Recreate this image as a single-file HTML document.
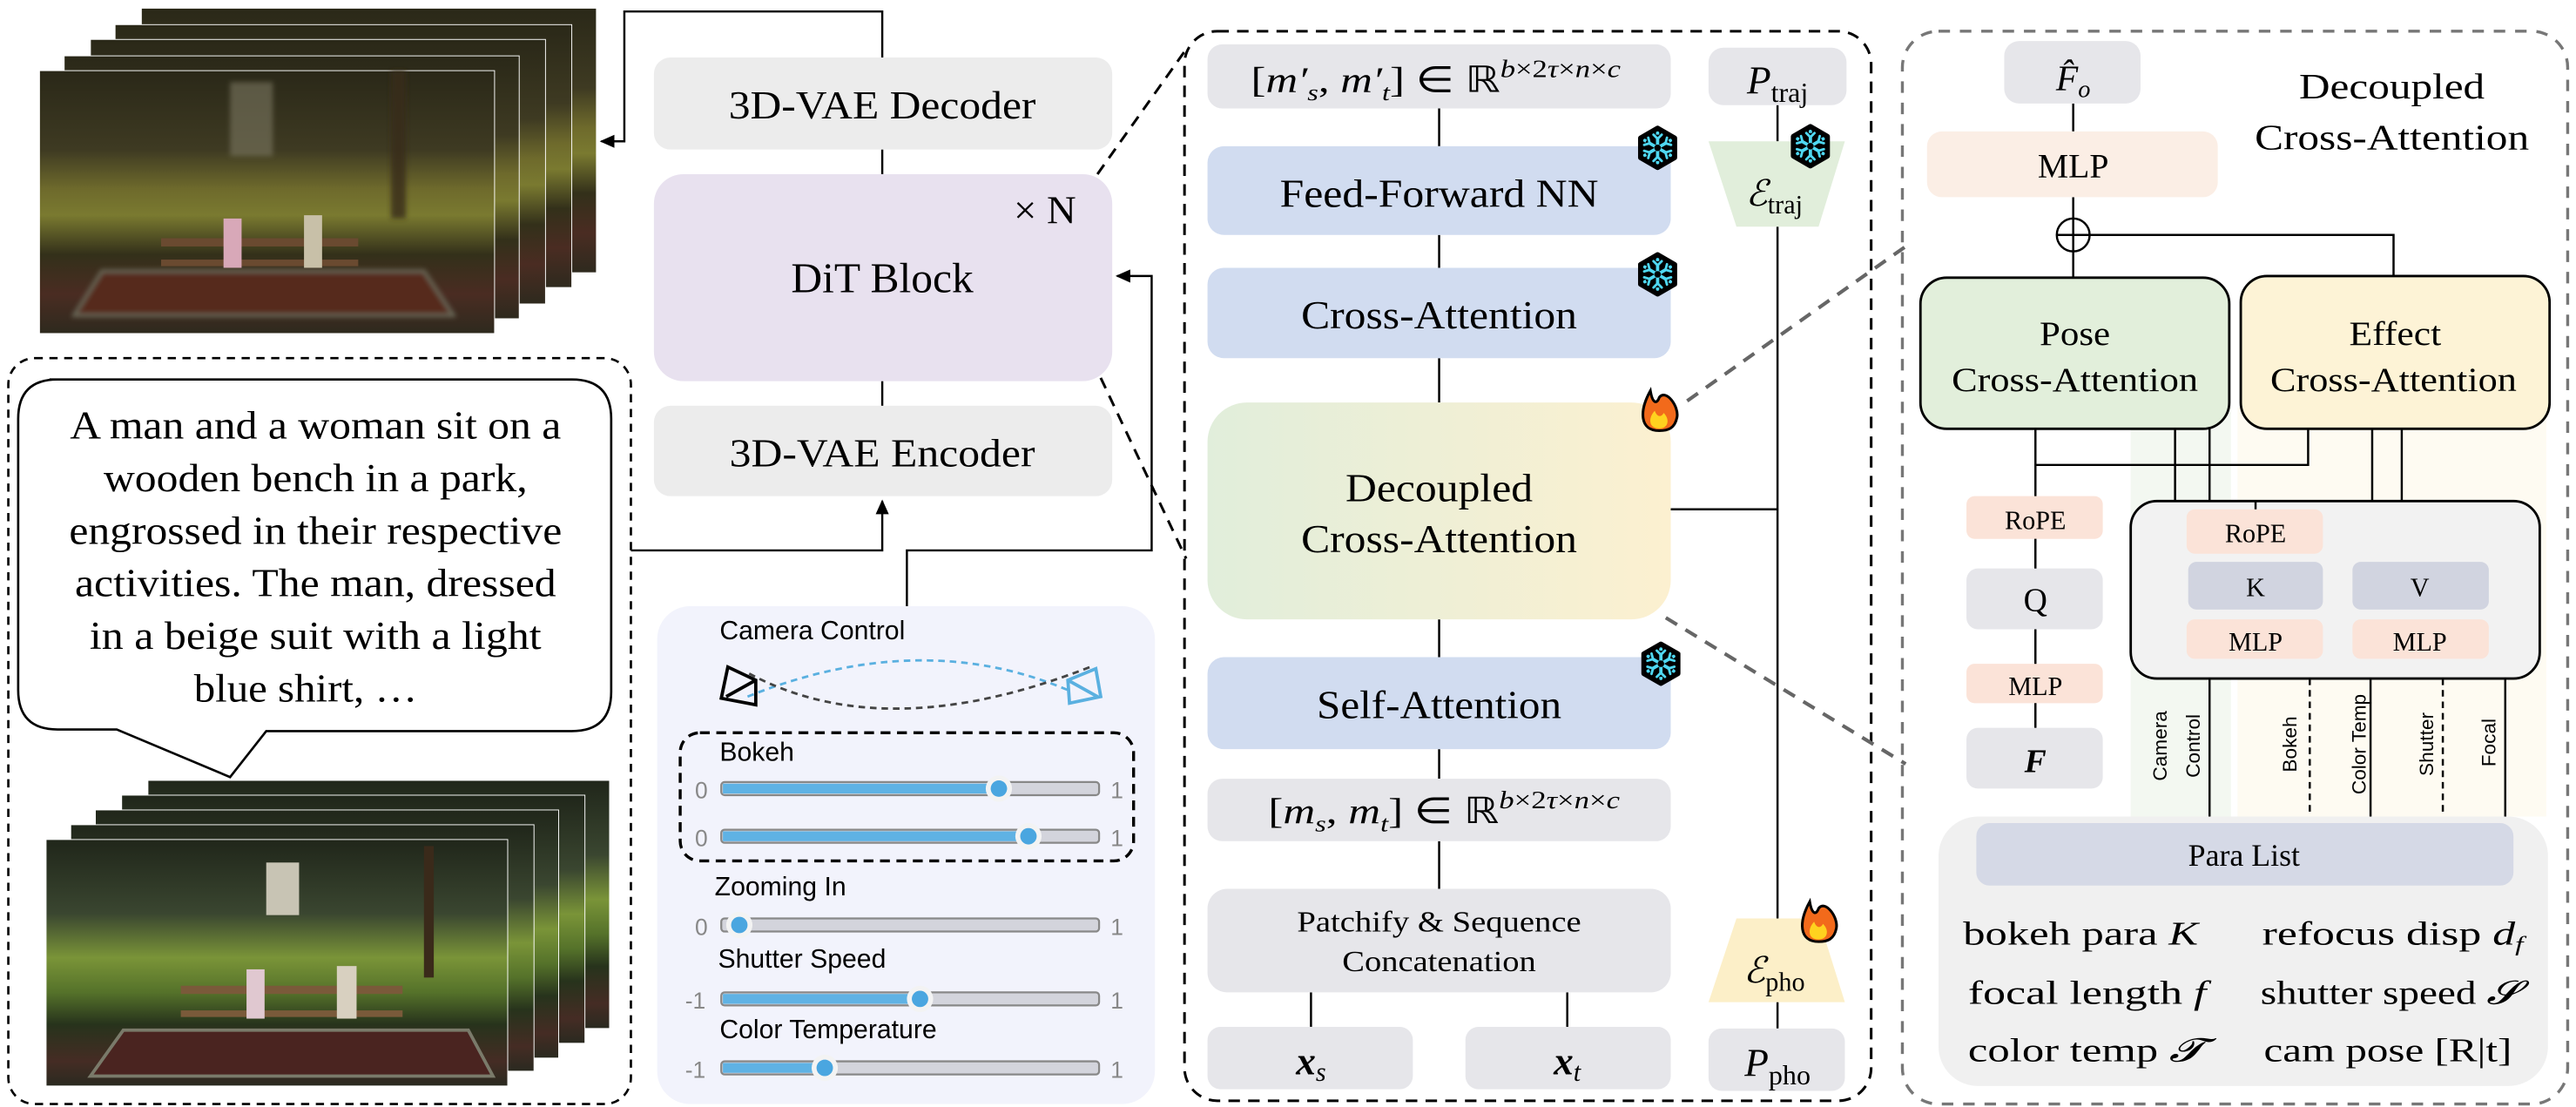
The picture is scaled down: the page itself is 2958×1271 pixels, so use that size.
<!DOCTYPE html>
<html><head><meta charset="utf-8"><style>
html,body{margin:0;padding:0;background:#fff;}
svg{display:block;}
.s{font-family:"Liberation Serif",serif;}
.a{font-family:"Liberation Sans","DejaVu Sans",sans-serif;}
</style></head><body>
<svg width="2958" height="1271" viewBox="0 0 1568 673.8" xmlns="http://www.w3.org/2000/svg">
<defs>
<linearGradient id="ph1" x1="0" y1="0" x2="0" y2="1">
<stop offset="0" stop-color="#2a2818"/><stop offset="0.3" stop-color="#3e3a22"/><stop offset="0.45" stop-color="#6e6a2c"/><stop offset="0.55" stop-color="#7a7a30"/><stop offset="0.7" stop-color="#33301a"/><stop offset="0.85" stop-color="#4a2c22"/><stop offset="1" stop-color="#2e2a1e"/>
</linearGradient>
<linearGradient id="ph2" x1="0" y1="0" x2="0" y2="1">
<stop offset="0" stop-color="#20261a"/><stop offset="0.3" stop-color="#3a4630"/><stop offset="0.48" stop-color="#7a9438"/><stop offset="0.62" stop-color="#55722a"/><stop offset="0.75" stop-color="#27331c"/><stop offset="0.9" stop-color="#452c24"/><stop offset="1" stop-color="#2a2a20"/>
</linearGradient>
<linearGradient id="dec" x1="0" y1="0" x2="1" y2="0">
<stop offset="0" stop-color="#e1eedb"/><stop offset="1" stop-color="#fcf0d0"/>
</linearGradient>
<marker id="ar" markerWidth="10" markerHeight="10" refX="8" refY="5" orient="auto" markerUnits="userSpaceOnUse"><path d="M0,1 L9,5 L0,9 Z" fill="#000"/></marker>
<g id="fire" transform="scale(1.35)"><path d="M0,9 C-9,9 -9,0 -4,-9 C-3,-3 -1,-3 0,-6 C3,-10 9,-2 8,3 C7,8 4,9 0,9 Z" fill="#f26a1b" stroke="#000" stroke-width="1.2"/><path d="M0,8 C-5,8 -5,3 -2,0 C-1,3 1,3 2,1 C5,4 4,8 0,8 Z" fill="#ffd21f"/></g>
<g id="snow">
<path d="M0,-12 L10.4,-6 L10.4,6 L0,12 L-10.4,6 L-10.4,-6 Z" fill="#000" stroke="#000" stroke-width="3" stroke-linejoin="round"/>
<g stroke="#4fd8f2" stroke-width="2" stroke-linecap="round">
<path d="M0,-9 V9 M-7.8,-4.5 L7.8,4.5 M-7.8,4.5 L7.8,-4.5"/>
<path d="M-2.5,-8 L0,-5.5 L2.5,-8 M-2.5,8 L0,5.5 L2.5,8 M-8.2,-1.8 L-4.8,-2.8 L-5.7,-6.2 M8.2,1.8 L4.8,2.8 L5.7,6.2 M-8.2,1.8 L-4.8,2.8 L-5.7,6.2 M8.2,-1.8 L4.8,-2.8 L5.7,-6.2" stroke-width="1.5"/>
</g>
<circle r="2" fill="#000"/>
</g>
<filter id="bl"><feGaussianBlur stdDeviation="1.5"/></filter>
</defs>

<!-- top photo stack -->
<g stroke="#fff" stroke-width="0.5">
<rect x="86" y="5" width="277" height="161" fill="url(#ph1)"/>
<rect x="70" y="15" width="278" height="160" fill="url(#ph1)"/>
<rect x="55" y="24" width="277" height="161" fill="url(#ph1)"/>
<rect x="39" y="34" width="277" height="160" fill="url(#ph1)"/>
<rect x="24" y="43" width="277" height="160" fill="url(#ph1)"/>
</g>
<g filter="url(#bl)">
<rect x="140" y="50" width="26" height="45" fill="#7a7660" opacity="0.6"/>
<rect x="238" y="43" width="9" height="90" fill="#3a2a1a" opacity="0.8"/>
<polygon points="45,192 62,165 258,165 276,192" fill="#57291f" stroke="#6a6a5a" stroke-width="2"/>
</g>
<rect x="98" y="145" width="120" height="5" fill="#6a4a30"/><rect x="98" y="158" width="120" height="4" fill="#6a4a30"/>
<rect x="136" y="133" width="11" height="30" fill="#d8a8b8"/><rect x="185" y="131" width="11" height="32" fill="#c8c0a8"/>

<!-- bottom photo stack -->
<g stroke="#fff" stroke-width="0.5">
<rect x="90" y="475" width="281" height="151" fill="url(#ph2)"/>
<rect x="74" y="484" width="282" height="151" fill="url(#ph2)"/>
<rect x="58" y="493" width="282" height="151" fill="url(#ph2)"/>
<rect x="43" y="502" width="282" height="150" fill="url(#ph2)"/>
<rect x="28" y="511" width="281" height="150" fill="url(#ph2)"/>
</g>
<rect x="162" y="525" width="20" height="32" fill="#c8c4b4"/>
<rect x="258" y="515" width="6" height="80" fill="#3a2a1a"/>
<polygon points="55,655 75,627 285,627 300,655" fill="#4a2420" stroke="#7a7a6a" stroke-width="2"/>
<rect x="110" y="600" width="135" height="5" fill="#7a5a3a"/><rect x="110" y="615" width="135" height="4" fill="#7a5a3a"/>
<rect x="150" y="590" width="11" height="30" fill="#e0c8d0"/><rect x="205" y="588" width="12" height="32" fill="#d8d0c0"/>

<!-- text box -->
<rect x="5" y="218" width="379" height="454" rx="16" fill="none" stroke="#000" stroke-width="1.4" stroke-dasharray="5,4"/>
<path d="M30,231 H348 Q372,231 372,255 V421 Q372,445 348,445 H162 L140,473 L71,444 H35 Q11,444 11,420 V255 Q11,231 35,231 Z" fill="#fff" stroke="#000" stroke-width="1.4"/>
<g class="s" font-size="24" text-anchor="middle" fill="#000">
<text x="192" y="267" textLength="299" lengthAdjust="spacingAndGlyphs">A man and a woman sit on a</text>
<text x="192" y="299" textLength="258" lengthAdjust="spacingAndGlyphs">wooden bench in a park,</text>
<text x="192" y="331" textLength="300" lengthAdjust="spacingAndGlyphs">engrossed in their respective</text>
<text x="192" y="363" textLength="293" lengthAdjust="spacingAndGlyphs">activities. The man, dressed</text>
<text x="192" y="395" textLength="275" lengthAdjust="spacingAndGlyphs">in a beige suit with a light</text>
<text x="186" y="427" textLength="136" lengthAdjust="spacingAndGlyphs">blue shirt, …</text>
</g>

<!-- left column -->
<g stroke="#000" stroke-width="1.3" fill="none">
<path d="M537,35 V7 H380 V86 H366" marker-end="url(#ar)"/>
<path d="M537,91 V106"/><path d="M537,232 V247"/>
<path d="M384,335 H537 V305" marker-end="url(#ar)"/>
<path d="M552,369 V335 H701 V168 H680" marker-end="url(#ar)"/>
</g>
<rect x="398" y="35" width="279" height="56" rx="10" fill="#ececec"/>
<rect x="398" y="106" width="279" height="126" rx="18" fill="#e8e1ef"/>
<rect x="398" y="247" width="279" height="55" rx="10" fill="#ececec"/>
<g class="s" fill="#000">
<text x="537" y="72" font-size="24" text-anchor="middle" textLength="187" lengthAdjust="spacingAndGlyphs">3D-VAE Decoder</text>
<text x="636" y="136" font-size="24" text-anchor="middle" textLength="38" lengthAdjust="spacingAndGlyphs">× N</text>
<text x="537" y="178" font-size="26" text-anchor="middle" textLength="111" lengthAdjust="spacingAndGlyphs">DiT Block</text>
<text x="537" y="284" font-size="24" text-anchor="middle" textLength="186" lengthAdjust="spacingAndGlyphs">3D-VAE Encoder</text>
</g>
<g stroke="#000" stroke-width="1.6" stroke-dasharray="7,5" fill="none">
<path d="M668,106 L722,30"/><path d="M670,230 L722,340"/>
</g>

<!-- camera panel -->
<rect x="400" y="369" width="303" height="303" rx="20" fill="#f2f3fc"/>
<g class="a" fill="#000" font-size="16">
<text x="438" y="389">Camera Control</text>
<text x="438" y="463">Bokeh</text>
<text x="435" y="545">Zooming In</text>
<text x="437" y="589">Shutter Speed</text>
<text x="438" y="632">Color Temperature</text>
</g>
<g fill="none" stroke-width="2">
<path d="M443,406 L460,414 L460,429 L439,425 Z M460,414 L442,424" stroke="#000"/>
<path d="M667,407 L670,424 L651,428 L650,414 Z M650,414 L668,424" stroke="#5ab0e0"/>
<path d="M455,424 Q560,382 650,420" stroke="#5ab0e0" stroke-dasharray="4,3" stroke-width="1.5"/>
<path d="M456,410 Q540,455 666,405" stroke="#444" stroke-dasharray="4,3" stroke-width="1.5"/>
</g>
<rect x="414" y="446" width="276" height="78" rx="12" fill="none" stroke="#000" stroke-width="1.8" stroke-dasharray="6,4"/>
<g class="a" font-size="14" fill="#888">
<text x="423" y="486">0</text><text x="676" y="486">1</text>
<text x="423" y="515">0</text><text x="676" y="515">1</text>
<text x="423" y="569">0</text><text x="676" y="569">1</text>
<text x="417" y="614">-1</text><text x="676" y="614">1</text>
<text x="417" y="656">-1</text><text x="676" y="656">1</text>
</g>
<g>
<rect x="439" y="476" width="230" height="8" rx="2" fill="#d3d4dc" stroke="#888" stroke-width="1.2"/><rect x="440" y="477" width="168" height="6" fill="#5fb2e4"/><circle cx="608" cy="480" r="8" fill="#f3f3f3"/><circle cx="608" cy="480" r="5" fill="#4aa6e0"/>
<rect x="439" y="505" width="230" height="8" rx="2" fill="#d3d4dc" stroke="#888" stroke-width="1.2"/><rect x="440" y="506" width="186" height="6" fill="#5fb2e4"/><circle cx="626" cy="509" r="8" fill="#f3f3f3"/><circle cx="626" cy="509" r="5" fill="#4aa6e0"/>
<rect x="439" y="559" width="230" height="8" rx="2" fill="#d3d4dc" stroke="#888" stroke-width="1.2"/><circle cx="450" cy="563" r="8" fill="#f3f3f3"/><circle cx="450" cy="563" r="5" fill="#4aa6e0"/>
<rect x="439" y="604" width="230" height="8" rx="2" fill="#d3d4dc" stroke="#888" stroke-width="1.2"/><rect x="440" y="605" width="120" height="6" fill="#5fb2e4"/><circle cx="560" cy="608" r="8" fill="#f3f3f3"/><circle cx="560" cy="608" r="5" fill="#4aa6e0"/>
<rect x="439" y="646" width="230" height="8" rx="2" fill="#d3d4dc" stroke="#888" stroke-width="1.2"/><rect x="440" y="647" width="62" height="6" fill="#5fb2e4"/><circle cx="502" cy="650" r="8" fill="#f3f3f3"/><circle cx="502" cy="650" r="5" fill="#4aa6e0"/>
</g>

<!-- middle panel -->
<rect x="721" y="19" width="418" height="651" rx="20" fill="none" stroke="#000" stroke-width="1.6" stroke-dasharray="7,5"/>
<g stroke="#000" stroke-width="1.3">
<line x1="876" y1="66" x2="876" y2="89"/><line x1="876" y1="143" x2="876" y2="163"/><line x1="876" y1="218" x2="876" y2="245"/>
<line x1="876" y1="377" x2="876" y2="400"/><line x1="876" y1="456" x2="876" y2="474"/><line x1="876" y1="512" x2="876" y2="541"/>
<line x1="798" y1="604" x2="798" y2="625"/><line x1="954" y1="604" x2="954" y2="625"/>
<line x1="1082" y1="64" x2="1082" y2="86"/><line x1="1082" y1="138" x2="1082" y2="559"/><line x1="1082" y1="610" x2="1082" y2="626"/>
<line x1="1017" y1="310" x2="1082" y2="310"/>
</g>
<rect x="735" y="27" width="282" height="39" rx="9" fill="#e6e6ea"/>
<rect x="1040" y="29" width="84" height="35" rx="9" fill="#e6e6ea"/>
<rect x="735" y="89" width="282" height="54" rx="10" fill="#d1dcf0"/>
<rect x="735" y="163" width="282" height="55" rx="10" fill="#d1dcf0"/>
<rect x="735" y="245" width="282" height="132" rx="24" fill="url(#dec)"/>
<rect x="735" y="400" width="282" height="56" rx="10" fill="#d1dcf0"/>
<rect x="735" y="474" width="282" height="38" rx="9" fill="#e6e6ea"/>
<rect x="735" y="541" width="282" height="63" rx="12" fill="#e6e6ea"/>
<rect x="735" y="625" width="125" height="38" rx="8" fill="#e6e6ea"/>
<rect x="892" y="625" width="125" height="38" rx="8" fill="#e6e6ea"/>
<rect x="1040" y="626" width="83" height="38" rx="8" fill="#e6e6ea"/>
<polygon points="1040,86 1123,86 1107,138 1057,138" fill="#e1eedb"/>
<polygon points="1057,559 1107,559 1123,610 1040,610" fill="#fcefc8"/>
<g class="s" fill="#000" text-anchor="middle">
<text x="874" y="56" font-size="22" textLength="225" lengthAdjust="spacingAndGlyphs">[<tspan font-style="italic">m′<tspan font-size="14" dy="5">s</tspan></tspan><tspan dy="-5">, </tspan><tspan font-style="italic">m′<tspan font-size="14" dy="5">t</tspan></tspan><tspan dy="-5">] ∈ ℝ</tspan><tspan font-size="15" dy="-9" font-style="italic">b</tspan><tspan font-size="15">×2</tspan><tspan font-size="15" font-style="italic">τ</tspan><tspan font-size="15">×</tspan><tspan font-size="15" font-style="italic">n</tspan><tspan font-size="15">×</tspan><tspan font-size="15" font-style="italic">c</tspan></text>
<text x="1082" y="57" font-size="24"><tspan font-style="italic">P</tspan><tspan font-size="17" dy="5">traj</tspan></text>
<text x="1080" y="125" font-size="22"><tspan font-style="italic">ℰ</tspan><tspan font-size="16" dy="5">traj</tspan></text>
<text x="1080" y="598" font-size="22"><tspan font-style="italic">ℰ</tspan><tspan font-size="16" dy="5">pho</tspan></text>
<text x="1082" y="655" font-size="24"><tspan font-style="italic">P</tspan><tspan font-size="17" dy="5">pho</tspan></text>
<text x="876" y="126" font-size="24" textLength="194" lengthAdjust="spacingAndGlyphs">Feed-Forward NN</text>
<text x="876" y="200" font-size="24" textLength="168" lengthAdjust="spacingAndGlyphs">Cross-Attention</text>
<text x="876" y="305" font-size="24" textLength="114" lengthAdjust="spacingAndGlyphs">Decoupled</text>
<text x="876" y="336" font-size="24" textLength="168" lengthAdjust="spacingAndGlyphs">Cross-Attention</text>
<text x="876" y="437" font-size="24" textLength="149" lengthAdjust="spacingAndGlyphs">Self-Attention</text>
<text x="879" y="501" font-size="22" textLength="214" lengthAdjust="spacingAndGlyphs">[<tspan font-style="italic">m<tspan font-size="14" dy="5">s</tspan></tspan><tspan dy="-5">, </tspan><tspan font-style="italic">m<tspan font-size="14" dy="5">t</tspan></tspan><tspan dy="-5">] ∈ ℝ</tspan><tspan font-size="15" dy="-9" font-style="italic">b</tspan><tspan font-size="15">×2</tspan><tspan font-size="15" font-style="italic">τ</tspan><tspan font-size="15">×</tspan><tspan font-size="15" font-style="italic">n</tspan><tspan font-size="15">×</tspan><tspan font-size="15" font-style="italic">c</tspan></text>
<text x="876" y="567" font-size="18" textLength="173" lengthAdjust="spacingAndGlyphs">Patchify &amp; Sequence</text>
<text x="876" y="591" font-size="18" textLength="118" lengthAdjust="spacingAndGlyphs">Concatenation</text>
<text x="798" y="654" font-size="24" font-weight="bold" font-style="italic">x<tspan font-size="16" dy="4" font-weight="normal">s</tspan></text>
<text x="954" y="654" font-size="24" font-weight="bold" font-style="italic">x<tspan font-size="16" dy="4" font-weight="normal">t</tspan></text>
</g>
<use href="#snow" x="1009" y="90"/><use href="#snow" x="1009" y="167"/><use href="#snow" x="1011" y="404"/><use href="#snow" x="1102" y="89"/>
<use href="#fire" x="1010" y="250"/><use href="#fire" x="1107" y="561"/>

<g stroke="#666" stroke-width="2.2" stroke-dasharray="8,6" fill="none">
<path d="M1027,244 L1160,150"/><path d="M1014,376 L1160,465"/>
</g>

<!-- right panel -->
<rect x="1158" y="19" width="405" height="653" rx="22" fill="none" stroke="#777" stroke-width="1.8" stroke-dasharray="7,6"/>
<rect x="1297" y="248" width="61" height="249" fill="#f3f8f1"/>
<rect x="1362" y="248" width="188" height="249" fill="#fefbf2"/>
<g stroke="#000" stroke-width="1.3" fill="none">
<line x1="1262" y1="63" x2="1262" y2="80"/><line x1="1262" y1="120" x2="1262" y2="169"/>
<path d="M1262,143 H1457 V168"/>
<path d="M1239,261 V443"/><path d="M1239,283 H1405 V261"/>
<path d="M1324,261 V305"/><path d="M1345,261 V305"/>
<path d="M1444,261 V305"/><path d="M1462,261 V305"/>
<path d="M1472,305 V342"/>
<path d="M1373,401 V406 H1472 V401"/><path d="M1422,406 V413"/>
<path d="M1345,413 V497"/><path d="M1443,413 V497"/><path d="M1525,413 V497"/>
<path d="M1406,413 V497" stroke-dasharray="4,3"/><path d="M1487,413 V497" stroke-dasharray="4,3"/>
</g>
<circle cx="1262" cy="143" r="10" fill="#fff" stroke="#000" stroke-width="1.3"/>
<path d="M1252,143 H1272 M1262,133 V153" stroke="#000" stroke-width="1.3"/>
<rect x="1220" y="25" width="83" height="38" rx="9" fill="#e6e6ea"/>
<rect x="1173" y="80" width="177" height="40" rx="9" fill="#fbeee5"/>
<rect x="1169" y="169" width="188" height="92" rx="16" fill="#e2efdb" stroke="#000" stroke-width="1.5"/>
<rect x="1364" y="168" width="188" height="93" rx="16" fill="#fdf3d6" stroke="#000" stroke-width="1.5"/>
<rect x="1197" y="302" width="83" height="26" rx="5" fill="#fbe3d8"/>
<rect x="1197" y="346" width="83" height="37" rx="7" fill="#e6e6ea"/>
<rect x="1197" y="404" width="83" height="24" rx="5" fill="#fbe3d8"/>
<rect x="1197" y="443" width="83" height="37" rx="7" fill="#e6e6ea"/>
<path d="M1239,328 V346 M1239,383 V404 M1239,428 V443" stroke="#000" stroke-width="1.3"/>
<rect x="1297" y="305" width="249" height="108" rx="16" fill="#f2f2f2" stroke="#000" stroke-width="1.5"/>
<rect x="1331" y="310" width="83" height="27" rx="5" fill="#fbe3d8"/>
<rect x="1332" y="342" width="82" height="29" rx="5" fill="#d1d4e0"/>
<rect x="1432" y="342" width="83" height="29" rx="5" fill="#d1d4e0"/>
<rect x="1331" y="377" width="83" height="24" rx="5" fill="#fbe3d8"/>
<rect x="1432" y="377" width="83" height="24" rx="5" fill="#fbe3d8"/>
<path d="M1373,305 V310" stroke="#000" stroke-width="1.3"/>
<rect x="1180" y="497" width="371" height="164" rx="24" fill="#f0f0f0"/>
<rect x="1203" y="501" width="327" height="38" rx="8" fill="#d5d9e6"/>
<g class="s" fill="#000" text-anchor="middle">
<text x="1262" y="55" font-size="22" font-style="italic">F̂<tspan font-size="15" dy="4">o</tspan></text>
<text x="1262" y="108" font-size="21">MLP</text>
<text x="1456" y="60" font-size="22" textLength="113" lengthAdjust="spacingAndGlyphs">Decoupled</text>
<text x="1456" y="91" font-size="22" textLength="167" lengthAdjust="spacingAndGlyphs">Cross-Attention</text>
<text x="1263" y="210" font-size="21" textLength="43" lengthAdjust="spacingAndGlyphs">Pose</text>
<text x="1263" y="238" font-size="21" textLength="150" lengthAdjust="spacingAndGlyphs">Cross-Attention</text>
<text x="1458" y="210" font-size="21" textLength="56" lengthAdjust="spacingAndGlyphs">Effect</text>
<text x="1457" y="238" font-size="21" textLength="150" lengthAdjust="spacingAndGlyphs">Cross-Attention</text>
<text x="1239" y="322" font-size="16">RoPE</text>
<text x="1239" y="372" font-size="20">Q</text>
<text x="1239" y="423" font-size="16">MLP</text>
<text x="1239" y="470" font-size="20" font-style="italic" font-weight="bold">F</text>
<text x="1373" y="330" font-size="16">RoPE</text>
<text x="1373" y="363" font-size="16">K</text>
<text x="1473" y="363" font-size="16">V</text>
<text x="1373" y="396" font-size="16">MLP</text>
<text x="1473" y="396" font-size="16">MLP</text>
<text x="1366" y="527" font-size="19">Para List</text>
</g>
<g class="s" fill="#000" font-size="20">
<text x="1195" y="575" textLength="143" lengthAdjust="spacingAndGlyphs">bokeh para <tspan font-style="italic">K</tspan></text>
<text x="1377" y="575" textLength="159" lengthAdjust="spacingAndGlyphs">refocus disp <tspan font-style="italic">d<tspan font-size="13" dy="4">f</tspan></tspan></text>
<text x="1198" y="611" textLength="145" lengthAdjust="spacingAndGlyphs">focal length <tspan font-style="italic">f</tspan></text>
<text x="1376" y="611" textLength="157" lengthAdjust="spacingAndGlyphs">shutter speed <tspan font-style="italic">𝓢</tspan></text>
<text x="1198" y="646" textLength="143" lengthAdjust="spacingAndGlyphs">color temp  <tspan font-style="italic">𝓣</tspan></text>
<text x="1378" y="646" textLength="151" lengthAdjust="spacingAndGlyphs">cam pose [R|t]</text>
</g>
<g class="a" fill="#000" font-size="12" text-anchor="middle">
<text transform="translate(1319,454) rotate(-90)">Camera</text>
<text transform="translate(1339,454) rotate(-90)">Control</text>
<text transform="translate(1398,453) rotate(-90)">Bokeh</text>
<text transform="translate(1440,453) rotate(-90)">Color Temp</text>
<text transform="translate(1481,453) rotate(-90)">Shutter</text>
<text transform="translate(1519,452) rotate(-90)">Focal</text>
</g>
</svg>
</body></html>
